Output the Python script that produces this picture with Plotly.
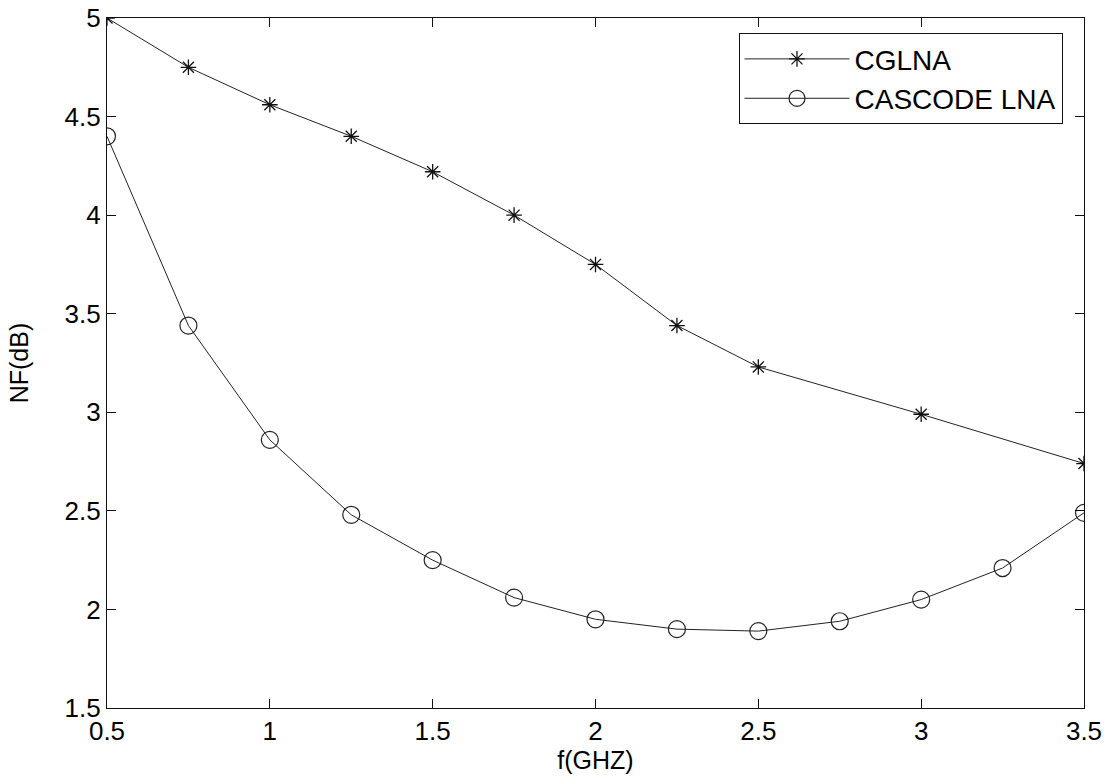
import plotly.graph_objects as go

freq_cg = [0.5, 0.75, 1.0, 1.25, 1.5, 1.75, 2.0, 2.25, 2.5, 3.0, 3.5]
nf_cg = [5.0, 4.75, 4.56, 4.40, 4.22, 4.00, 3.75, 3.44, 3.23, 2.99, 2.74]

freq_cas = [0.5, 0.75, 1.0, 1.25, 1.5, 1.75, 2.0, 2.25, 2.5, 2.75, 3.0, 3.25, 3.5]
nf_cas = [4.40, 3.44, 2.86, 2.48, 2.25, 2.06, 1.95, 1.90, 1.89, 1.94, 2.05, 2.21, 2.49]

x_ticks = [0.5, 1, 1.5, 2, 2.5, 3, 3.5]
y_ticks = [1.5, 2, 2.5, 3, 3.5, 4, 4.5, 5]

font = "Liberation Sans, Arial, sans-serif"

fig = go.Figure()
fig.add_trace(go.Scatter(
    x=freq_cg, y=nf_cg, name="CGLNA", mode="lines+markers",
    line=dict(color="#222", width=1),
    marker=dict(symbol="asterisk-open", size=13, color="#111", line=dict(width=1.3, color="#111")),
))
fig.add_trace(go.Scatter(
    x=freq_cas, y=nf_cas, name="CASCODE LNA", mode="lines+markers",
    line=dict(color="#222", width=1),
    marker=dict(symbol="circle-open", size=17, color="#222", line=dict(width=1.2, color="#222")),
))

axis_common = dict(
    showline=True, linecolor="#111", linewidth=1.3, mirror="allticks",
    ticks="inside", ticklen=9, tickcolor="#111", tickwidth=1.2,
    showgrid=False, zeroline=False, automargin=False,
    tickfont=dict(family=font, size=26, color="#000"),
)

fig.update_layout(
    width=1108, height=782,
    margin=dict(l=107, r=24, t=18, b=74),
    paper_bgcolor="white", plot_bgcolor="white",
    font=dict(family=font, color="#000"),
    showlegend=True,
    legend=dict(
        x=0.978, y=0.978, xanchor="right", yanchor="top",
        bordercolor="#111", borderwidth=1, bgcolor="white",
        font=dict(family=font, size=28, color="#000"),
        itemwidth=105, tracegroupgap=0,
    ),
    xaxis=dict(range=[0.5, 3.5], tickvals=x_ticks, ticktext=[str(v) for v in x_ticks],
               title=dict(text="f(GHZ)", font=dict(family=font, size=25), standoff=6),
               **axis_common),
    yaxis=dict(range=[1.5, 5], tickvals=y_ticks, ticktext=[str(v) for v in y_ticks],
               title=dict(text="NF(dB)", font=dict(family=font, size=25), standoff=28),
               **axis_common),
)

fig.write_html("out.html")
